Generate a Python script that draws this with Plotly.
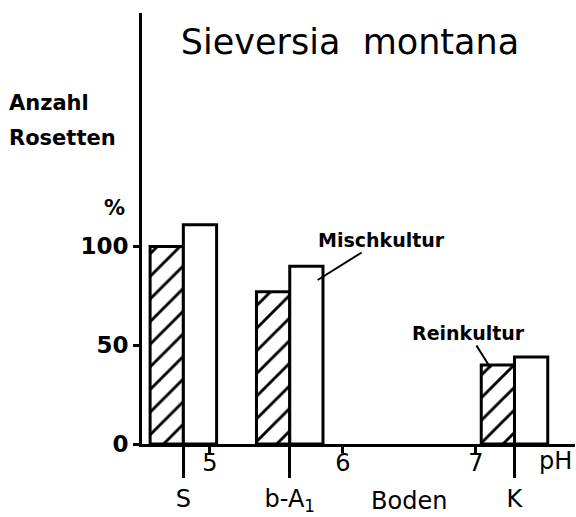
import plotly.graph_objects as go

# ---- data ----
soils = ["S", "b-A<sub>1</sub>", "K"]          # soil types
soil_ph = [4.80, 5.60, 7.29]                  # pH of each soil (x position)
reinkultur = [100, 77, 40]                    # hatched bars, % rosettes
mischkultur = [111, 90, 44]                   # white bars, % rosettes
y_ticks = [0, 50, 100]
ph_ticks = [5, 6, 7]

BAR_W = 0.25
FONT = "DejaVu Sans"
X_RANGE = [4.489, 7.745]
Y_RANGE = [0, 218.1]

fig = go.Figure()
fig.add_trace(go.Bar(
    x=soil_ph, y=reinkultur, width=BAR_W, offset=-BAR_W, name="Reinkultur",
    marker=dict(color="white", line=dict(color="black", width=3),
                pattern=dict(shape="/", fgcolor="black", bgcolor="white",
                             fgopacity=1, size=16, solidity=0.18)),
    hoverinfo="skip"))
fig.add_trace(go.Bar(
    x=soil_ph, y=mischkultur, width=BAR_W, offset=0, name="Mischkultur",
    marker=dict(color="white", line=dict(color="black", width=3)),
    hoverinfo="skip"))
# invisible trace carrying the soil axis
fig.add_trace(go.Scatter(x=soil_ph, y=[None] * len(soil_ph), xaxis="x2",
                         mode="markers", showlegend=False, hoverinfo="skip"))

fig.update_layout(
    width=576, height=517,
    margin=dict(l=142, r=1, t=13, b=73),
    paper_bgcolor="white", plot_bgcolor="white",
    showlegend=False, barmode="overlay",
    font=dict(family=FONT, color="black"),
    title=dict(text="Sieversia  montana", x=350 / 576, xanchor="center",
               y=1 - 42 / 517, yanchor="middle",
               font=dict(size=35, family=FONT, color="black")),
    xaxis=dict(range=X_RANGE, tickvals=ph_ticks, automargin=False,
               ticktext=[str(v) for v in ph_ticks],
               ticks="outside", ticklen=6, tickwidth=2.5, tickcolor="black",
               showline=True, linewidth=3, linecolor="black",
               showgrid=False, zeroline=False, ticklabelstandoff=-11,
               tickfont=dict(size=24, family=FONT, color="black")),
    xaxis2=dict(overlaying="x", anchor="y", side="bottom", range=X_RANGE,
                automargin=False,
                tickvals=soil_ph, ticktext=soils,
                ticks="outside", ticklen=33, tickwidth=2.5, tickcolor="black",
                showline=False, showgrid=False, zeroline=False,
                ticklabelstandoff=0,
                tickfont=dict(size=24, family=FONT, color="black")),
    yaxis=dict(range=Y_RANGE, tickvals=y_ticks, automargin=False,
               ticks="outside", ticklen=6, tickwidth=2.5, tickcolor="black",
               showline=True, linewidth=3, linecolor="black",
               showgrid=False, zeroline=False,
               tickfont=dict(size=23, family=FONT, color="black", weight="bold")),
)

bold = dict(family=FONT, color="black", weight="bold")
fig.add_annotation(text="Anzahl", xref="paper", yref="paper", x=0, xshift=-135,
                   xanchor="left", y=(444 - 103) / 431, yanchor="middle",
                   showarrow=False, font=dict(size=21, **bold))
fig.add_annotation(text="Rosetten", xref="paper", yref="paper", x=0, xshift=-135,
                   xanchor="left", y=(444 - 138) / 431, yanchor="middle",
                   showarrow=False, font=dict(size=21, **bold))
fig.add_annotation(text="%", xref="paper", yref="paper", x=0, xshift=-15,
                   xanchor="right", y=(444 - 208) / 431, yanchor="middle",
                   showarrow=False, font=dict(size=21, **bold))
fig.add_annotation(text="Mischkultur", xref="x", yref="y",
                   x=soil_ph[1] + 0.21, y=mischkultur[1] - 7,
                   showarrow=True, arrowhead=0, arrowwidth=2, arrowcolor="black",
                   ax=64, ay=-40, font=dict(size=19, **bold))
fig.add_annotation(text="Reinkultur", xref="x", yref="y",
                   x=soil_ph[2] - 0.18, y=reinkultur[2] - 1.5,
                   showarrow=True, arrowhead=0, arrowwidth=2, arrowcolor="black",
                   ax=-22, ay=-35, font=dict(size=19, **bold))
fig.add_annotation(text="Boden", xref="x", yref="paper", x=6.5, y=0, yshift=-57,
                   yanchor="middle", showarrow=False,
                   font=dict(size=24, family=FONT, color="black"))
fig.add_annotation(text="pH", xref="x", yref="paper", x=7.6, y=0, yshift=-17,
                   yanchor="middle", showarrow=False,
                   font=dict(size=24, family=FONT, color="black"))

# remove the browser's default 8px body margin so the figure fills the window
fig.write_html("out.html",
               config={"displayModeBar": False},
               post_script="document.body.style.margin='0';"
                           "document.body.style.overflow='hidden';")
